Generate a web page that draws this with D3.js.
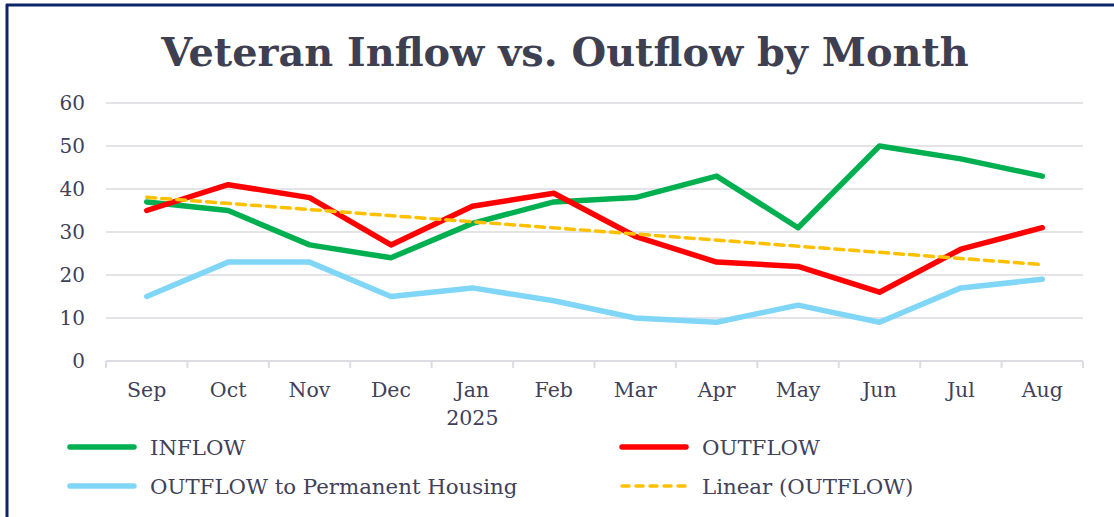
<!DOCTYPE html>
<html>
<head>
<meta charset="utf-8">
<script src="https://cdn.jsdelivr.net/npm/d3@7"></script>
<style>
  body { margin: 0; background: #fff; }
  svg text { font-family: "DejaVu Serif", "Liberation Serif", serif; fill: #41415a; }
  .grid line { stroke: #e3e3e8; stroke-width: 2; }
</style>
</head>
<body>
<script>
// chart values
var months = ["Sep", "Oct", "Nov", "Dec", "Jan", "Feb", "Mar", "Apr", "May", "Jun", "Jul", "Aug"];
var inflow = [37, 35, 27, 24, 32, 37, 38, 43, 31, 50, 47, 43];
var outflow = [35, 41, 38, 27, 36, 39, 29, 23, 22, 16, 26, 31];
var housing = [15, 23, 23, 15, 17, 14, 10, 9, 13, 9, 17, 19];
var yTicks = [0, 10, 20, 30, 40, 50, 60];

window.onload = drawChart();

function drawChart() {
    var width = 1114,
        height = 517;
    var margin = {top: 103, right: 31, bottom: 156, left: 106};

    var svg = d3.select("body")
        .append("svg")
        .attr("width", width)
        .attr("height", height);

    //frame: only top and left edges show
    svg.append("line").attr("x1", 6).attr("x2", width).attr("y1", 5).attr("y2", 5)
        .attr("stroke", "#0d2466").attr("stroke-width", 3);
    svg.append("line").attr("x1", 7).attr("x2", 7).attr("y1", 4).attr("y2", height)
        .attr("stroke", "#0d2466").attr("stroke-width", 3);

    var x = d3.scaleBand()
        .domain(months)
        .range([margin.left, width - margin.right]);
    var y = d3.scaleLinear()
        .domain([0, 60])
        .range([height - margin.bottom, margin.top]);

    //title
    svg.append("text")
        .attr("x", 565)
        .attr("y", 66)
        .attr("text-anchor", "middle")
        .style("font-size", "39.8px")
        .style("font-weight", "bold")
        .style("fill", "#3f3f52")
        .text("Veteran Inflow vs. Outflow by Month");

    //gridlines
    svg.append("g")
        .attr("class", "grid")
        .selectAll("line")
        .data(yTicks.slice(1))
        .enter()
        .append("line")
        .attr("x1", margin.left)
        .attr("x2", width - margin.right)
        .attr("y1", d => y(d))
        .attr("y2", d => y(d));

    //y labels
    svg.append("g")
        .selectAll("text")
        .data(yTicks)
        .enter()
        .append("text")
        .attr("x", 85)
        .attr("y", d => y(d) + 7)
        .attr("text-anchor", "end")
        .style("font-size", "20px")
        .text(d => d);

    //x axis with ticks between categories
    var xAxis = svg.append("g")
        .attr("transform", "translate(0," + y(0) + ")");
    xAxis.append("line")
        .attr("x1", margin.left).attr("x2", width - margin.right)
        .attr("stroke", "#dcdce2").attr("stroke-width", 2);
    xAxis.selectAll(".tk")
        .data(months.concat(["end"]))
        .enter()
        .append("line")
        .attr("x1", (d, i) => margin.left + i * x.step())
        .attr("x2", (d, i) => margin.left + i * x.step())
        .attr("y1", 0).attr("y2", 7)
        .attr("stroke", "#dcdce2").attr("stroke-width", 2);
    xAxis.selectAll(".lbl")
        .data(months)
        .enter()
        .append("text")
        .attr("x", d => x(d) + x.bandwidth() / 2)
        .attr("y", 36)
        .attr("text-anchor", "middle")
        .style("font-size", "20.5px")
        .text(d => d);
    xAxis.append("text")
        .attr("x", x("Jan") + x.bandwidth() / 2)
        .attr("y", 64)
        .attr("text-anchor", "middle")
        .style("font-size", "20.5px")
        .text("2025");

    //linear trend of outflow (least squares, as Excel does)
    var n = outflow.length,
        mx = d3.mean(outflow, (d, i) => i),
        my = d3.mean(outflow);
    var slope = d3.sum(outflow, (d, i) => (i - mx) * (d - my)) / d3.sum(outflow, (d, i) => (i - mx) * (i - mx));
    var trend = [0, n - 1].map(i => [i, my + slope * (i - mx)]);

    var cx = i => x(months[i]) + x.bandwidth() / 2;
    var line = d3.line()
        .x((d, i) => cx(i))
        .y(d => y(d));

    var series = [
        {name: "OUTFLOW to Permanent Housing", values: housing, color: "#80d6f6"},
        {name: "INFLOW", values: inflow, color: "#00b050"},
        {name: "OUTFLOW", values: outflow, color: "#ff0000"}
    ];
    svg.selectAll(".series")
        .data(series)
        .enter()
        .append("path")
        .attr("class", "series")
        .attr("d", d => line(d.values))
        .attr("fill", "none")
        .attr("stroke", d => d.color)
        .attr("stroke-width", 5.5)
        .attr("stroke-linejoin", "round")
        .attr("stroke-linecap", "round");

    svg.append("path")
        .attr("d", d3.line().x(d => cx(d[0])).y(d => y(d[1]))(trend))
        .attr("fill", "none")
        .attr("stroke", "#ffc000")
        .attr("stroke-width", 3.5)
        .attr("stroke-dasharray", "9,6")
        .attr("stroke-linecap", "round");

    //legend
    var legend = [
        {name: "INFLOW", color: "#00b050", dash: null, x: 70, y: 447},
        {name: "OUTFLOW", color: "#ff0000", dash: null, x: 622, y: 447},
        {name: "OUTFLOW to Permanent Housing", color: "#80d6f6", dash: null, x: 70, y: 486},
        {name: "Linear (OUTFLOW)", color: "#ffc000", dash: "7,7", x: 622, y: 486}
    ];
    var items = svg.selectAll(".legend")
        .data(legend)
        .enter()
        .append("g")
        .attr("transform", d => "translate(" + d.x + "," + d.y + ")");
    items.append("line")
        .attr("x1", 0).attr("x2", 64)
        .attr("stroke", d => d.color)
        .attr("stroke-width", d => d.dash ? 3.5 : 5.5)
        .attr("stroke-dasharray", d => d.dash)
        .attr("stroke-linecap", "round");
    items.append("text")
        .attr("x", 80)
        .attr("y", 8)
        .style("font-size", "21.3px")
        .text(d => d.name);
}
</script>
</body>
</html>
